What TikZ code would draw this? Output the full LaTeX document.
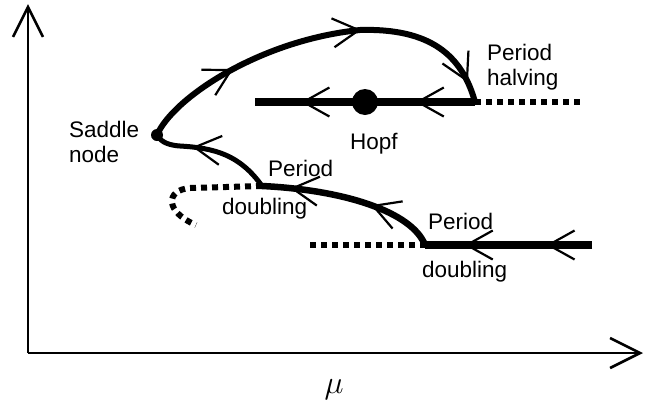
\documentclass[tikz,border=0pt]{standalone}
\usepackage{fix-cm}
\usepackage{fontspec}
\setmainfont{Liberation Sans}
\usetikzlibrary{arrows.meta,decorations.markings,positioning}

\begin{document}
\begin{tikzpicture}[
        x=1pt, y=-1pt,
        ax/.style={line width=2.6pt, -{Straight Barb[length=30pt,width=30pt,line width=2.6pt 0]}},
        br/.style={line width=#1},
        dt/.style={line width=6pt, dash pattern=on 6pt off 5pt},
        lb/.style={font=\fontsize{22.5}{25}\selectfont, inner sep=0pt},
        dot/.style={circle, fill, inner sep=0pt, minimum size=#1},
        fl/.style={postaction={decorate, decoration={markings, mark=at position #1 with {\chv}}}}
    ]

    \def\chv{\draw[line width=2.2pt, line cap=butt] (-26pt,14.5pt) -- (0pt,0pt) -- (-26pt,-14.5pt);}

    \useasboundingbox (0,0) rectangle (653,408);

    \coordinate (o) at (28,353);
    \coordinate (yt) at (28,4);
    \coordinate (xt) at (643,353);

    \node[dot=12pt] (sn) at (157,135) {};
    \node[dot=26pt] (hp) at (365,102) {};
    \coordinate (ph) at (475,102);
    \coordinate (hl) at (255,102);
    \coordinate (hr) at (582,102);
    \coordinate (pd1) at (262,186);
    \coordinate (pd2) at (425,245);
    \coordinate (ll) at (310,245);
    \coordinate (lr) at (592,245);
    \coordinate (ce) at (196,225);

    \node[lb, anchor=west, align=left] (saddle) at (69,142) {Saddle\\node};
    \node[lb, anchor=west, align=left] (halving) at (487,67) {Period\\halving};
    \node[lb, anchor=base west] (hopf) at (350,149) {Hopf};
    \node[lb, anchor=base west] (per1) at (268,176) {Period};
    \node[lb, anchor=base west] (dbl1) at (222,214) {doubling};
    \node[lb, anchor=base west] (per2) at (428,229) {Period};
    \node[lb, anchor=base west] (dbl2) at (422,277) {doubling};
    \node[font=\fontsize{28}{30}\selectfont, inner sep=0pt] (mu) at (334,390) {\scalebox{1.15}{$\mu$}};

    \draw[ax] (o) -- (yt);
    \draw[ax] (o) -- (xt);

    \draw[br=6pt, fl=0.26, fl=0.61, fl=0.94]
        (sn.center) .. controls (173,98) and (260,40) .. (360,30)
        .. controls (430,28) and (462,55) .. (ph);
    \draw[br=8pt, fl=0.26, fl=0.78] (ph) -- (hl);
    \draw[dt] (ph) -- (hr);
    \draw[br=5pt, fl=0.66]
        (pd1) .. controls (240,155) and (215,148) .. (180,146)
        .. controls (165,145) and (160,140) .. (sn.center);
    \draw[br=6.5pt, fl=0.37, fl=0.83]
        (pd2) .. controls (412,212) and (345,190) .. (pd1);
    \draw[dt] (pd1) -- (190,188) .. controls (165,190) and (165,212) .. (ce);
    \draw[br=8pt, fl=0.26, fl=0.75] (lr) -- (pd2);
    \draw[dt] (ll) -- (pd2);

\end{tikzpicture}
\end{document}
